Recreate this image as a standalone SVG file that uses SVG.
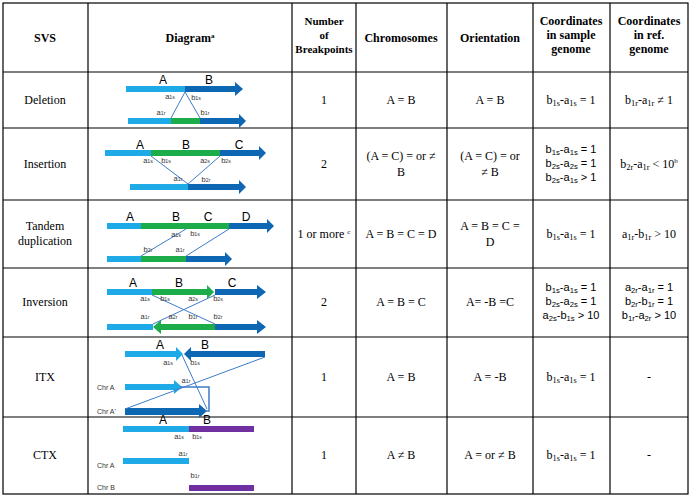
<svg xmlns="http://www.w3.org/2000/svg" width="700" height="499" viewBox="0 0 700 499">
<style>
.g{stroke:#000;stroke-width:1.2;fill:none}
.t{font-family:"Liberation Serif",serif;font-size:12px;text-anchor:middle;fill:#000}
.h{font-weight:bold}
.s{font-family:"Liberation Sans",sans-serif;font-size:11px;text-anchor:middle;fill:#000}
.L{font-family:"Liberation Sans",sans-serif;font-size:12px;text-anchor:middle;fill:#000}
.l{font-family:"Liberation Sans",sans-serif;font-size:7.5px;text-anchor:middle;fill:#333}
.c{font-family:"Liberation Sans",sans-serif;font-size:7px;fill:#333}
.lb{fill:#1eaae7}.db{fill:#0e67b3}.gr{fill:#1cad4a}.pu{fill:#7030a0}
.ln{stroke:#3d7cc9;stroke-width:1;fill:none}
.sub{font-size:70%}
</style>
<rect x="0" y="0" width="700" height="499" fill="#fff"/>
<g id="grid" class="g">
<rect x="3" y="3" width="685" height="491"/>
<line x1="3" y1="72" x2="688" y2="72"/><line x1="3" y1="128" x2="688" y2="128"/>
<line x1="3" y1="200" x2="688" y2="200"/><line x1="3" y1="268" x2="688" y2="268"/>
<line x1="3" y1="337" x2="688" y2="337"/><line x1="3" y1="417" x2="688" y2="417"/>
<line x1="88" y1="3" x2="88" y2="494"/><line x1="292" y1="3" x2="292" y2="494"/>
<line x1="356" y1="3" x2="356" y2="494"/><line x1="447" y1="3" x2="447" y2="494"/>
<line x1="533" y1="3" x2="533" y2="494"/><line x1="610" y1="3" x2="610" y2="494"/>
</g>
<g id="header">
<text class="t h" x="45" y="42">SVS</text>
<text class="t h" x="190" y="42">Diagram<tspan font-size="7" dy="-4">a</tspan></text>
<text class="t h" x="324" y="25" style="font-size:11px">Number</text><text class="t h" x="324" y="39" style="font-size:11px">of</text><text class="t h" x="324" y="53" style="font-size:11px">Breakpoints</text>
<text class="t h" x="401" y="42">Chromosomes</text>
<text class="t h" x="490" y="42">Orientation</text>
<text class="t h" x="571" y="25">Coordinates</text><text class="t h" x="571" y="39">in sample</text><text class="t h" x="571" y="53">genome</text>
<text class="t h" x="649" y="25">Coordinates</text><text class="t h" x="649" y="39">in ref.</text><text class="t h" x="649" y="53">genome</text>
</g>
<g id="row-deletion">
<text class="t" x="45" y="104">Deletion</text>
<text class="t" x="324" y="104">1</text><text class="t" x="401" y="104">A = B</text><text class="t" x="490" y="104">A = B</text>
<text class="t" x="571" y="104">b<tspan class="sub" dy="2">1s</tspan><tspan dy="-2">-a</tspan><tspan class="sub" dy="2">1s</tspan><tspan dy="-2"> = 1</tspan></text>
<text class="t" x="649" y="104">b<tspan class="sub" dy="2">1r</tspan><tspan dy="-2">-a</tspan><tspan class="sub" dy="2">1r</tspan><tspan dy="-2"> ≠ 1</tspan></text>
<rect class="lb" x="126" y="86" width="59" height="6"/><rect class="db" x="185" y="86" width="51" height="6"/><polygon class="db" points="235,82 243,89 235,96"/>
<rect class="lb" x="128" y="118" width="43" height="6"/><rect class="gr" x="171" y="118" width="29" height="6"/><rect class="db" x="200" y="118" width="40" height="6"/><polygon class="db" points="239,114 246,121 239,128"/>
<polyline class="ln" points="171,118 185,92 200,118"/>
<text class="L" x="163" y="84">A</text><text class="L" x="209" y="84">B</text>
<text class="l" x="170" y="99">a<tspan class="sub">1s</tspan></text><text class="l" x="196" y="100">b<tspan class="sub">1s</tspan></text>
<text class="l" x="161" y="115">a<tspan class="sub">1r</tspan></text><text class="l" x="205" y="115">b<tspan class="sub">1r</tspan></text>
</g>
<g id="row-insertion">
<text class="t" x="45" y="168">Insertion</text>
<text class="t" x="324" y="168">2</text>
<text class="t" x="401" y="160">(A = C) = or ≠</text><text class="t" x="401" y="176">B</text>
<text class="t" x="490" y="160">(A = C) = or</text><text class="t" x="490" y="176">≠ B</text>
<text class="s" x="571" y="153">b<tspan class="sub" dy="2">1s</tspan><tspan dy="-2">-a</tspan><tspan class="sub" dy="2">1s</tspan><tspan dy="-2"> = 1</tspan></text>
<text class="s" x="571" y="167">b<tspan class="sub" dy="2">2s</tspan><tspan dy="-2">-a</tspan><tspan class="sub" dy="2">2s</tspan><tspan dy="-2"> = 1</tspan></text>
<text class="s" x="571" y="181">b<tspan class="sub" dy="2">2s</tspan><tspan dy="-2">-a</tspan><tspan class="sub" dy="2">1s</tspan><tspan dy="-2"> &gt; 1</tspan></text>
<text class="t" x="649" y="168">b<tspan class="sub" dy="2">2r</tspan><tspan dy="-2">-a</tspan><tspan class="sub" dy="2">1r</tspan><tspan dy="-2"> &lt; 10</tspan><tspan font-size="7" dy="-5">b</tspan></text>
<rect class="lb" x="105" y="150" width="46" height="6"/><rect class="gr" x="151" y="150" width="69" height="6"/><rect class="db" x="220" y="150" width="40" height="6"/><polygon class="db" points="259,146 266,153 259,160"/>
<rect class="lb" x="130" y="184" width="58" height="6"/><rect class="db" x="188" y="184" width="52" height="6"/><polygon class="db" points="239,180 246,187 239,194"/>
<polyline class="ln" points="151,156 188,184 220,156"/>
<text class="L" x="140" y="149">A</text><text class="L" x="186" y="149">B</text><text class="L" x="239" y="149">C</text>
<text class="l" x="148" y="163">a<tspan class="sub">1s</tspan></text><text class="l" x="166" y="163">b<tspan class="sub">1s</tspan></text>
<text class="l" x="205" y="163">a<tspan class="sub">2s</tspan></text><text class="l" x="226" y="163">b<tspan class="sub">2s</tspan></text>
<text class="l" x="178" y="181">a<tspan class="sub">1r</tspan></text><text class="l" x="206" y="182">b<tspan class="sub">2r</tspan></text>
</g>
<g id="row-tandem">
<text class="t" x="45" y="230">Tandem</text><text class="t" x="45" y="245">duplication</text>
<text class="t" x="324" y="238">1 or more <tspan font-size="7" dy="-4">c</tspan></text>
<text class="t" x="401" y="238">A = B = C = D</text>
<text class="t" x="490" y="230">A = B = C =</text><text class="t" x="490" y="246">D</text>
<text class="t" x="571" y="238">b<tspan class="sub" dy="2">1s</tspan><tspan dy="-2">-a</tspan><tspan class="sub" dy="2">1s</tspan><tspan dy="-2"> = 1</tspan></text>
<text class="t" x="649" y="238">a<tspan class="sub" dy="2">1r</tspan><tspan dy="-2">-b</tspan><tspan class="sub" dy="2">1r</tspan><tspan dy="-2"> &gt; 10</tspan></text>
<rect class="lb" x="107" y="223" width="34" height="6"/><rect class="gr" x="141" y="223" width="88" height="6"/><rect class="db" x="229" y="223" width="39" height="6"/><polygon class="db" points="267,219 274,226 267,233"/>
<rect class="lb" x="107" y="256" width="34" height="6"/><rect class="gr" x="141" y="256" width="45" height="6"/><rect class="db" x="186" y="256" width="40" height="6"/><polygon class="db" points="225,252 232,259 225,266"/>
<line class="ln" x1="186" y1="229" x2="141" y2="256"/><line class="ln" x1="229" y1="229" x2="186" y2="256"/>
<text class="L" x="130" y="221">A</text><text class="L" x="176" y="221">B</text><text class="L" x="208" y="221">C</text><text class="L" x="246" y="221">D</text>
<text class="l" x="176" y="237">a<tspan class="sub">1s</tspan></text><text class="l" x="195" y="236">b<tspan class="sub">1s</tspan></text>
<text class="l" x="148" y="252">b<tspan class="sub">2r</tspan></text><text class="l" x="180" y="252">a<tspan class="sub">1r</tspan></text>
</g>
<g id="row-inversion">
<text class="t" x="45" y="306">Inversion</text>
<text class="t" x="324" y="306">2</text><text class="t" x="401" y="306">A = B = C</text><text class="t" x="490" y="306">A= -B =C</text>
<text class="s" x="571" y="291">b<tspan class="sub" dy="2">1s</tspan><tspan dy="-2">-a</tspan><tspan class="sub" dy="2">1s</tspan><tspan dy="-2"> = 1</tspan></text>
<text class="s" x="571" y="305">b<tspan class="sub" dy="2">2s</tspan><tspan dy="-2">-a</tspan><tspan class="sub" dy="2">2s</tspan><tspan dy="-2"> = 1</tspan></text>
<text class="s" x="571" y="319">a<tspan class="sub" dy="2">2s</tspan><tspan dy="-2">-b</tspan><tspan class="sub" dy="2">1s</tspan><tspan dy="-2"> &gt; 10</tspan></text>
<text class="s" x="649" y="291">a<tspan class="sub" dy="2">2r</tspan><tspan dy="-2">-a</tspan><tspan class="sub" dy="2">1r</tspan><tspan dy="-2"> = 1</tspan></text>
<text class="s" x="649" y="305">b<tspan class="sub" dy="2">2r</tspan><tspan dy="-2">-b</tspan><tspan class="sub" dy="2">1r</tspan><tspan dy="-2"> = 1</tspan></text>
<text class="s" x="649" y="319">b<tspan class="sub" dy="2">1r</tspan><tspan dy="-2">-a</tspan><tspan class="sub" dy="2">2r</tspan><tspan dy="-2"> &gt; 10</tspan></text>
<rect class="lb" x="107" y="289" width="45" height="6"/><rect class="gr" x="152" y="289" width="56" height="6"/><polygon class="gr" points="207,285 214,292 207,299"/>
<rect class="db" x="215" y="289" width="43" height="6"/><polygon class="db" points="257,285 266,292 257,299"/>
<rect class="lb" x="107" y="324" width="46" height="6"/><rect class="gr" x="160" y="324" width="55" height="6"/><polygon class="gr" points="161,320 153,327 161,334"/>
<rect class="db" x="215" y="324" width="43" height="6"/><polygon class="db" points="257,320 266,327 257,334"/>
<line class="ln" x1="152" y1="295" x2="215" y2="324"/><line class="ln" x1="215" y1="295" x2="153" y2="324"/>
<text class="L" x="133" y="287">A</text><text class="L" x="179" y="287">B</text><text class="L" x="232" y="287">C</text>
<text class="l" x="145" y="301">a<tspan class="sub">1s</tspan></text><text class="l" x="165" y="301">b<tspan class="sub">1s</tspan></text>
<text class="l" x="193" y="301">a<tspan class="sub">2s</tspan></text><text class="l" x="218" y="301">b<tspan class="sub">2s</tspan></text>
<text class="l" x="145" y="319">a<tspan class="sub">1r</tspan></text><text class="l" x="173" y="319">a<tspan class="sub">2r</tspan></text>
<text class="l" x="193" y="319">b<tspan class="sub">1r</tspan></text><text class="l" x="218" y="319">b<tspan class="sub">2r</tspan></text>
</g>
<g id="row-itx">
<text class="t" x="45" y="381">ITX</text>
<text class="t" x="324" y="381">1</text><text class="t" x="401" y="381">A = B</text><text class="t" x="490" y="381">A = -B</text>
<text class="t" x="571" y="381">b<tspan class="sub" dy="2">1s</tspan><tspan dy="-2">-a</tspan><tspan class="sub" dy="2">1s</tspan><tspan dy="-2"> = 1</tspan></text>
<text class="t" x="649" y="381">-</text>
<rect class="lb" x="125" y="351" width="52" height="6"/><polygon class="lb" points="176,347 183,354 176,361"/>
<rect class="db" x="190" y="351" width="75" height="6"/><polygon class="db" points="191,347 184,354 191,361"/>
<rect class="lb" x="125" y="384" width="50" height="6"/><polygon class="lb" points="174,380 182,387 174,394"/>
<rect class="db" x="125" y="408" width="75" height="7"/><polygon class="db" points="199,404 207,411 199,418"/>
<line class="ln" x1="265" y1="357" x2="125" y2="409"/><line class="ln" x1="182" y1="355" x2="207" y2="409"/>
<polyline class="ln" points="180,387 209,387 209,411 205,411" style="stroke-width:1.5"/>
<text class="L" x="160" y="349">A</text><text class="L" x="205" y="349">B</text>
<text class="l" x="168" y="365">a<tspan class="sub">1s</tspan></text><text class="l" x="195" y="365">b<tspan class="sub">1s</tspan></text>
<text class="l" x="186" y="383">a<tspan class="sub">1r</tspan></text>
<text class="c" x="97" y="390">Chr A</text><text class="c" x="97" y="414">Chr A'</text>
</g>
<g id="row-ctx">
<text class="t" x="45" y="459">CTX</text>
<text class="t" x="324" y="459">1</text><text class="t" x="401" y="459">A ≠ B</text><text class="t" x="490" y="459">A = or ≠ B</text>
<text class="t" x="571" y="459">b<tspan class="sub" dy="2">1s</tspan><tspan dy="-2">-a</tspan><tspan class="sub" dy="2">1s</tspan><tspan dy="-2"> = 1</tspan></text>
<text class="t" x="649" y="459">-</text>
<rect class="lb" x="123" y="426" width="66" height="6"/><rect class="pu" x="189" y="426" width="65" height="6"/>
<rect class="lb" x="123" y="458" width="66" height="6"/>
<rect class="pu" x="189" y="485" width="65" height="6"/>
<text class="L" x="163" y="424">A</text><text class="L" x="207" y="424">B</text>
<text class="l" x="179" y="439">a<tspan class="sub">1s</tspan></text><text class="l" x="197" y="439">b<tspan class="sub">1s</tspan></text>
<text class="l" x="183" y="456">a<tspan class="sub">1r</tspan></text><text class="l" x="195" y="478">b<tspan class="sub">1r</tspan></text>
<text class="c" x="97" y="468">Chr A</text><text class="c" x="97" y="490">Chr B</text>
</g>
</svg>
